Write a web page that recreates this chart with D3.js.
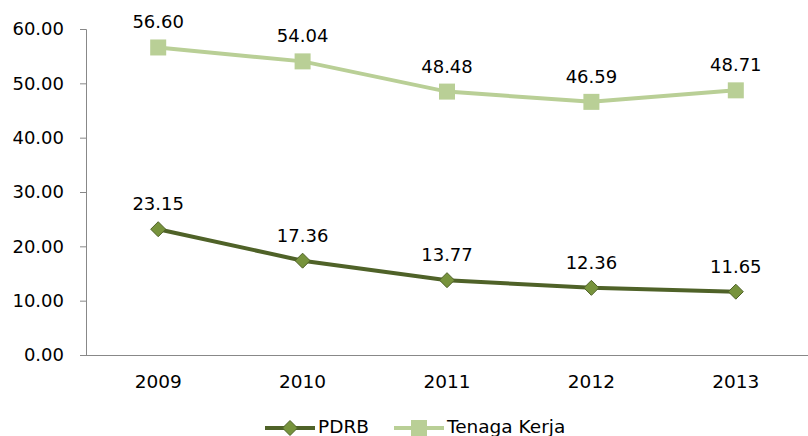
<!DOCTYPE html>
<html>
<head>
<meta charset="utf-8">
<script src="https://cdn.jsdelivr.net/npm/d3@7"></script>
<style>
  body { margin: 0; background: #fff; }
  text { font-family: "DejaVu Sans", Verdana, sans-serif; fill: #000; }
</style>
</head>
<body>
<div class="board"></div>
<script>
// globals
var width = 808;
var height = 436;

var years = ['2009', '2010', '2011', '2012', '2013'];
var pdrb = [23.15, 17.36, 13.77, 12.36, 11.65];
var tenagaKerja = [56.60, 54.04, 48.48, 46.59, 48.71];
var yTicks = [0, 10, 20, 30, 40, 50, 60];

var darkLine = '#4f6228';
var darkFill = '#77933c';
var lightLine = '#b9cf96';

var margin = {top: 29, right: 0, bottom: 81, left: 86};

var svg = d3.select('.board').append('svg')
  .attr('width', width)
  .attr('height', height);

var x = d3.scaleBand().domain(years)
  .range([margin.left, width - margin.right]);
var y = d3.scaleLinear().domain([0, 60])
  .range([height - margin.bottom, margin.top]);

var cx = function(d, i) { return x(years[i]) + x.bandwidth() / 2; };

// square-ish diamond marker
var diamond = function(r) {
  return 'M0,' + (-r) + 'L' + r + ',0L0,' + r + 'L' + (-r) + ',0Z';
};

// y axis
var yAxis = svg.append('g')
  .attr('transform', 'translate(' + margin.left + ',0)')
  .call(d3.axisLeft(y).tickValues(yTicks).tickFormat(d3.format('.2f')).tickSizeOuter(0).tickSize(6).tickPadding(16));
yAxis.selectAll('text').style('font-size', '18px');
yAxis.selectAll('line, path').attr('stroke', '#888');

// x axis
var xAxis = svg.append('g')
  .attr('transform', 'translate(0,' + y(0) + ')')
  .call(d3.axisBottom(x).tickSize(0).tickPadding(20));
xAxis.selectAll('text').style('font-size', '18.5px');
xAxis.select('path').attr('stroke', '#888').attr('d', 'M' + (margin.left - 6) + ',0.5H' + width);

var line = d3.line().x(cx).y(function(d) { return y(d); });

// tenaga kerja
svg.append('path').datum(tenagaKerja)
  .attr('d', line).attr('fill', 'none')
  .attr('stroke', lightLine).attr('stroke-width', 4);
svg.selectAll('.sq').data(tenagaKerja).enter().append('rect')
  .attr('x', function(d, i) { return cx(d, i) - 8; })
  .attr('y', function(d) { return y(d) - 8; })
  .attr('width', 16).attr('height', 16)
  .attr('fill', lightLine);

// pdrb
svg.append('path').datum(pdrb)
  .attr('d', line).attr('fill', 'none')
  .attr('stroke', darkLine).attr('stroke-width', 4);
svg.selectAll('.dm').data(pdrb).enter().append('path')
  .attr('d', diamond(7.5))
  .attr('transform', function(d, i) { return 'translate(' + cx(d, i) + ',' + y(d) + ')'; })
  .attr('fill', darkFill).attr('stroke', darkLine).attr('stroke-width', 1);

// labels
[tenagaKerja, pdrb].forEach(function(series) {
  svg.selectAll(null).data(series).enter().append('text')
    .attr('x', cx)
    .attr('y', function(d) { return y(d) - 19; })
    .attr('text-anchor', 'middle')
    .style('font-size', '18px')
    .text(function(d) { return d3.format('.2f')(d); });
});

// legend
var legend = [
  {name: 'PDRB', stroke: darkLine, x: 265},
  {name: 'Tenaga Kerja', stroke: lightLine, x: 394}
];
var lg = svg.selectAll('.lg').data(legend).enter().append('g')
  .attr('transform', function(d) { return 'translate(' + d.x + ',428)'; });
lg.append('line').attr('x1', 0).attr('x2', 50)
  .attr('stroke', function(d) { return d.stroke; }).attr('stroke-width', 4);
lg.each(function(d, i) {
  var g = d3.select(this);
  if (i === 0) {
    g.append('path').attr('d', diamond(7.5))
      .attr('transform', 'translate(25,0)')
      .attr('fill', darkFill).attr('stroke', darkLine);
  } else {
    g.append('rect').attr('x', 17).attr('y', -8).attr('width', 16).attr('height', 16)
      .attr('fill', lightLine);
  }
});
lg.append('text').attr('x', 53).attr('y', 5)
  .style('font-size', '18.5px')
  .text(function(d) { return d.name; });
</script>
</body>
</html>
